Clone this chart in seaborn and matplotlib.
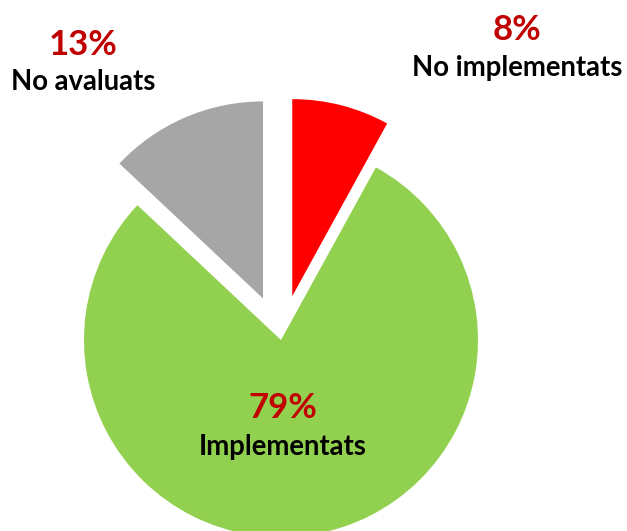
import matplotlib
matplotlib.use("Agg")
import matplotlib.pyplot as plt
import seaborn as sns

categories = ["No implementats", "Implementats", "No avaluats"]
shares = [8, 79, 13]
slice_colors = ["#FF0000", "#92D050", "#A6A6A6"]
pct_labels = ["8%", "79%", "13%"]

sns.set_theme(style="white")
plt.rcParams["font.family"] = ["Lato", "DejaVu Sans"]

fig = plt.figure(figsize=(6.27, 5.31), dpi=100)
ax = fig.add_axes([0, 0, 1, 1])
ax.pie(shares, colors=slice_colors, startangle=90, counterclock=False,
       explode=[0.23, 0, 0.23], radius=1.0, center=(0, 0),
       wedgeprops=dict(linewidth=0))
ax.set_xlim(-281 / 197, (627 - 281) / 197)
ax.set_ylim(-(531 - 340) / 197, 340 / 197)
ax.set_aspect("equal")
ax.axis("off")

def px(x, y):
    return (x - 281) / 197, (340 - y) / 197

label_pos = {
    "No implementats": (517, 30, 68),
    "Implementats": (283, 408, 447),
    "No avaluats": (83, 45, 82),
}
for cat, pct in zip(categories, pct_labels):
    x, y1, y2 = label_pos[cat]
    ax.text(*px(x, y1), pct, ha="center", va="center", fontsize=25,
            fontweight="bold", color="#C00000")
    ax.text(*px(x, y2), cat, ha="center", va="center", fontsize=19.8,
            fontweight="bold", color="black")

fig.savefig("out.png", dpi=100)
